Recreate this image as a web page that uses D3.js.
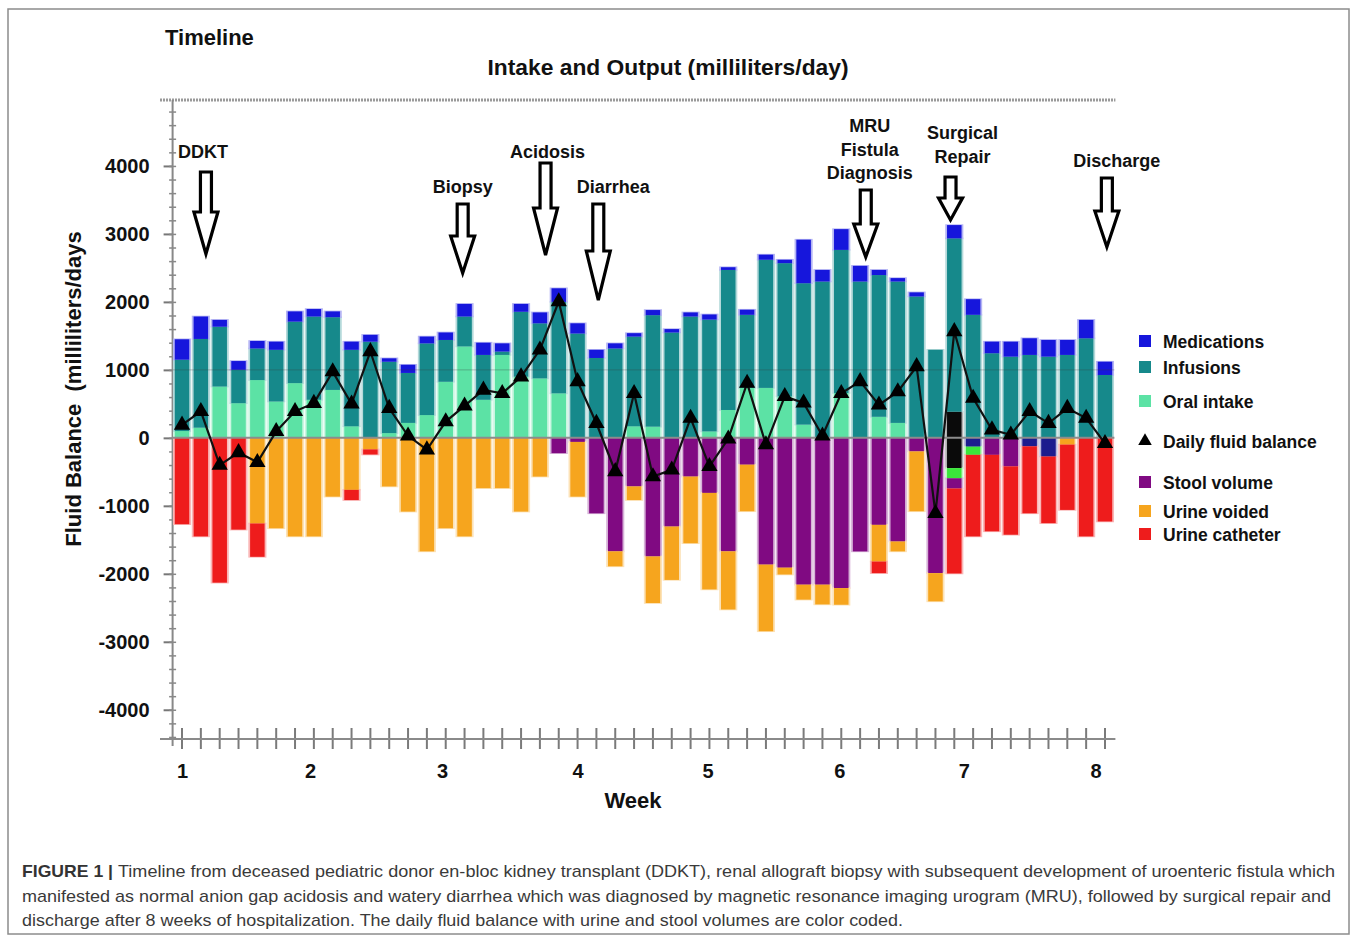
<!DOCTYPE html>
<html>
<head>
<meta charset="utf-8">
<script src="https://cdn.jsdelivr.net/npm/d3@7"></script>
<style>
    body { margin: 0; background: #fff; }
    svg text { font-family: "Liberation Sans", Arial, Helvetica, sans-serif; }
</style>
</head>
<body>
<div id="chart"></div>
<script>
'use strict';

// Hospital days (one bar each)
const dayIndex = [0, 1, 2, 3, 4, 5, 6, 7, 8, 9, 10, 11, 12, 13, 14, 15, 16, 17, 18, 19,
    20, 21, 22, 23, 24, 25, 26, 27, 28, 29, 30, 31, 32, 33, 34, 35, 36, 37, 38, 39,
    40, 41, 42, 43, 44, 45, 46, 47, 48, 49];

// Week labels and the day they sit under
const weekLabels = ['1', '2', '3', '4', '5', '6', '7', '8'];
const weekDay = [0, 6.8, 13.8, 21, 27.9, 34.9, 41.5, 48.5];

// Y tick labels
const yTicks = [-4000, -3000, -2000, -1000, 0, 1000, 2000, 3000, 4000];

// Intake (ml/day)
const oralIntake = [100, 150, 755, 510, 850, 535, 805, 560, 705, 170,
    0, 70, 220, 335, 825, 1345, 560, 1220, 900, 875,
    655, 0, 0, 0, 170, 165, 0, 0, 95, 410,
    735, 735, 610, 195, 0, 660, 0, 310, 220, 0,
    0, 0, 0, 0, 0, 0, 0, 0, 0, 0];
const infusions = [1050, 1305, 880, 490, 465, 760, 905, 1225, 1070, 1125,
    1415, 1050, 735, 1055, 615, 440, 660, 50, 955, 810,
    1345, 1535, 1175, 1315, 1320, 1640, 1550, 1785, 1645, 2060,
    1075, 1885, 1960, 2080, 2300, 2105, 2300, 2085, 2080, 2080,
    1295, 2550, 1810, 1245, 1195, 1220, 1195, 1220, 1465, 925];
const medications = [300, 330, 100, 130, 110, 120, 150, 110, 85, 120,
    100, 50, 120, 100, 110, 185, 180, 120, 115, 160,
    200, 150, 120, 75, 50, 75, 50, 60, 75, 40,
    75, 75, 50, 640, 170, 305, 230, 75, 50, 60,
    0, 195, 230, 170, 220, 245, 245, 220, 270, 195];

// Output (ml/day)
const stoolVolume = [0, 0, 0, 0, 0, 0, 0, 0, 0, 0,
    0, 0, 0, 0, 0, 0, 0, 0, 0, 0,
    225, 60, 1110, 1670, 715, 1745, 1305, 570, 810, 1670,
    395, 1865, 1910, 2160, 2160, 2210, 1670, 1280, 1525, 200,
    1990, 150, 0, 250, 420, 0, 0, 0, 0, 0];
const urineVoided = [0, 0, 0, 0, 1260, 1330, 1450, 1450, 865, 765,
    170, 715, 1085, 1670, 1330, 1450, 740, 740, 1085, 570,
    0, 805, 0, 220, 200, 685, 785, 980, 1420, 855,
    685, 980, 100, 220, 290, 245, 0, 540, 145, 880,
    415, 0, 0, 0, 0, 0, 0, 100, 0, 0];
const urineCatheter = [1270, 1450, 2130, 1350, 490, 0, 0, 0, 0, 150,
    75, 0, 0, 0, 0, 0, 0, 0, 0, 0,
    0, 0, 0, 0, 0, 0, 0, 0, 0, 0,
    0, 0, 0, 0, 0, 0, 0, 170, 0, 0,
    0, 1250, 1200, 1125, 1005, 985, 980, 960, 1450, 1230];

// Unlabelled segments (surgery day and after)
const blackUp = [0, 0, 0, 0, 0, 0, 0, 0, 0, 0, 0, 0, 0, 0, 0, 0, 0, 0, 0, 0,
    0, 0, 0, 0, 0, 0, 0, 0, 0, 0, 0, 0, 0, 0, 0, 0, 0, 0, 0, 0,
    0, 385, 0, 0, 0, 0, 0, 0, 0, 0];
const navyDown = [0, 0, 0, 0, 0, 0, 0, 0, 0, 0, 0, 0, 0, 0, 0, 0, 0, 0, 0, 0,
    0, 0, 0, 0, 0, 0, 0, 0, 0, 0, 0, 0, 0, 0, 0, 0, 0, 0, 0, 0,
    0, 0, 130, 0, 0, 125, 275, 0, 0, 0];
const blackDown = [0, 0, 0, 0, 0, 0, 0, 0, 0, 0, 0, 0, 0, 0, 0, 0, 0, 0, 0, 0,
    0, 0, 0, 0, 0, 0, 0, 0, 0, 0, 0, 0, 0, 0, 0, 0, 0, 0, 0, 0,
    0, 445, 0, 0, 0, 0, 0, 0, 0, 0];
const limeDown = [0, 0, 0, 0, 0, 0, 0, 0, 0, 0, 0, 0, 0, 0, 0, 0, 0, 0, 0, 0,
    0, 0, 0, 0, 0, 0, 0, 0, 0, 0, 0, 0, 0, 0, 0, 0, 0, 0, 0, 0,
    0, 150, 120, 0, 0, 0, 0, 0, 0, 0];

// Daily fluid balance (ml/day)
const dailyBalance = [190, 390, -400, -215, -360, 95, 390, 510, 975, 500,
    1270, 435, 30, -175, 240, 470, 705, 655, 900, 1295,
    2005, 830, 215, -495, 655, -570, -470, 290, -420, -15,
    805, -100, 610, 515, 30, 655, 830, 485, 680, 1050,
    -1110, 1565, 585, 120, 45, 390, 215, 435, 290, -80];

// Timeline events
const eventLabels = [['DDKT'], ['Biopsy'], ['Acidosis'], ['Diarrhea'],
    ['MRU', 'Fistula', 'Diagnosis'], ['Surgical', 'Repair'], ['Discharge']];
const eventDay = [1.27, 14.9, 19.3, 22.1, 36.3, 40.8, 49.1];

// Legend
const legendLabels = ['Medications', 'Infusions', 'Oral intake', 'Daily fluid balance',
    'Stool volume', 'Urine voided', 'Urine catheter'];

// Caption
const captionLead = 'FIGURE 1 |';
const captionLines = [
    'Timeline from deceased pediatric donor en-bloc kidney transplant (DDKT), renal allograft biopsy with subsequent development of uroenteric fistula which',
    'manifested as normal anion gap acidosis and watery diarrhea which was diagnosed by magnetic resonance imaging urogram (MRU), followed by surgical repair and',
    'discharge after 8 weeks of hospitalization. The daily fluid balance with urine and stool volumes are color coded.'
];

class FluidChart {

    // Configs
    w = 1358;
    h = 936;

    constructor(_ref) {
        this.parent = _ref;
        this.initVis();
    }

    initVis() {
        // Get this vis
        const vis = this;

        vis.svg = d3.select(`#${vis.parent}`)
            .append('svg')
            .attr('width', vis.w)
            .attr('height', vis.h);

        vis.svg.append('rect')
            .attr('width', vis.w)
            .attr('height', vis.h)
            .attr('fill', '#fff');

        // Outer frame
        vis.svg.append('rect')
            .attr('x', 8)
            .attr('y', 9)
            .attr('width', 1341)
            .attr('height', 925)
            .attr('fill', 'none')
            .attr('stroke', '#8c8c8c')
            .attr('stroke-width', 1.5);

        // Plot box
        vis.plot = {left: 172.6, right: 1114.4, top: 100, bottom: 739};

        // Scales
        vis.x = d3.scaleBand()
            .domain(dayIndex)
            .range([vis.plot.left, vis.plot.right])
            .paddingInner(0.23)
            .paddingOuter(0.115);
        vis.xDay = d3.scaleLinear()
            .domain([dayIndex[0], dayIndex[dayIndex.length - 1]])
            .range([vis.x(dayIndex[0]) + vis.x.bandwidth() / 2,
                vis.x(dayIndex[dayIndex.length - 1]) + vis.x.bandwidth() / 2]);
        vis.y = d3.scaleLinear()
            .domain([-4430, 4970])
            .range([vis.plot.bottom, vis.plot.top]);

        // Colors
        vis.colors = {
            oral: '#5ce2a5',
            blackUp: '#0a0a0a',
            infusions: '#16898b',
            medications: '#1616dc',
            navyDown: '#1c1c8e',
            blackDown: '#0a0a0a',
            limeDown: '#3ae63a',
            stool: '#800a82',
            voided: '#f6a51e',
            catheter: '#ee1c1c'
        };

        // Table for the stack (outputs as negatives)
        vis.keys = ['oral', 'blackUp', 'infusions', 'medications',
            'navyDown', 'blackDown', 'limeDown', 'stool', 'voided', 'catheter'];
        vis.rows = dayIndex.map((d, i) => ({
            day: d,
            oral: oralIntake[i],
            blackUp: blackUp[i],
            infusions: infusions[i],
            medications: medications[i],
            navyDown: -navyDown[i],
            blackDown: -blackDown[i],
            limeDown: -limeDown[i],
            stool: -stoolVolume[i],
            voided: -urineVoided[i],
            catheter: -urineCatheter[i]
        }));

        vis.drawAxes();
        vis.drawBars();
        vis.drawBalance();
        vis.drawEvents();
        vis.drawTitles();
        vis.drawLegend();
        vis.drawCaption();
    }

    /*
    drawAxes
     */
    drawAxes() {
        const vis = this;

        // Dotted top border
        vis.svg.append('line')
            .attr('x1', 160)
            .attr('x2', vis.plot.right + 1)
            .attr('y1', vis.plot.top)
            .attr('y2', vis.plot.top)
            .attr('stroke', '#9a9a9a')
            .attr('stroke-width', 3)
            .attr('stroke-dasharray', '2,1');

        // Y axis: labels and major ticks (plain hyphen for negatives)
        const yAxisG = vis.svg.append('g')
            .attr('class', 'yAxis')
            .attr('transform', `translate(${vis.plot.left},0)`)
            .call(d3.axisLeft(vis.y)
                .tickValues(yTicks)
                .tickSize(9)
                .tickPadding(14)
                .tickFormat(d => String(d)));
        yAxisG.select('.domain').remove();
        yAxisG.selectAll('.tick line')
            .attr('stroke', '#777')
            .attr('stroke-width', 2);
        yAxisG.selectAll('.tick text')
            .attr('font-size', 20)
            .attr('font-weight', 'bold')
            .attr('fill', '#111');

        // Y axis: minor ticks both sides
        const minor = d3.range(-4400, 4801, 200);
        [d3.axisLeft, d3.axisRight].forEach(ax => {
            const g = vis.svg.append('g')
                .attr('transform', `translate(${vis.plot.left},0)`)
                .call(ax(vis.y).tickValues(minor).tickSize(3.5).tickFormat(''));
            g.select('.domain').remove();
            g.selectAll('.tick line')
                .attr('stroke', '#888')
                .attr('stroke-width', 1.5);
        });

        // Y axis line
        vis.svg.append('line')
            .attr('x1', vis.plot.left)
            .attr('x2', vis.plot.left)
            .attr('y1', vis.plot.top)
            .attr('y2', vis.plot.bottom + 7)
            .attr('stroke', '#888')
            .attr('stroke-width', 2);

        // X axis: day ticks across the line
        const xTickG = vis.svg.append('g')
            .attr('class', 'xTicks')
            .attr('transform', `translate(0,${vis.plot.bottom - 11})`)
            .call(d3.axisBottom(vis.x).tickSize(21).tickFormat(''));
        xTickG.select('.domain').remove();
        xTickG.selectAll('.tick line')
            .attr('stroke', '#7a7a7a')
            .attr('stroke-width', 2);

        // X axis line
        vis.svg.append('line')
            .attr('x1', 160)
            .attr('x2', vis.plot.right + 1)
            .attr('y1', vis.plot.bottom)
            .attr('y2', vis.plot.bottom)
            .attr('stroke', '#8a8a8a')
            .attr('stroke-width', 2);

        // Week labels
        const weekG = vis.svg.append('g')
            .attr('class', 'weekAxis')
            .attr('transform', `translate(0,${vis.plot.bottom})`)
            .call(d3.axisBottom(vis.xDay)
                .tickValues(weekDay)
                .tickSize(0)
                .tickPadding(25)
                .tickFormat((d, i) => weekLabels[i]));
        weekG.select('.domain').remove();
        weekG.selectAll('.tick text')
            .attr('font-size', 20)
            .attr('font-weight', 'bold')
            .attr('fill', '#111');
    }

    /*
    drawBars
     */
    drawBars() {
        const vis = this;

        vis.stacked = d3.stack()
            .keys(vis.keys)
            .offset(d3.stackOffsetDiverging)(vis.rows);

        const segs = [];
        vis.stacked.forEach(s => {
            s.forEach(p => {
                if (p[1] !== p[0]) {
                    segs.push({key: s.key, day: p.data.day, y0: p[0], y1: p[1]});
                }
            });
        });

        // Pale halo round each segment
        vis.svg.append('g')
            .attr('class', 'barHalo')
            .selectAll('rect')
            .data(segs)
            .join('rect')
            .attr('x', d => vis.x(d.day) - 1.8)
            .attr('width', vis.x.bandwidth() + 3.6)
            .attr('y', d => vis.y(Math.max(d.y0, d.y1)) - 0.8)
            .attr('height', d => Math.abs(vis.y(d.y0) - vis.y(d.y1)) + 1.6)
            .attr('fill', d => d3.interpolateRgb(vis.colors[d.key], '#fff')(0.68));

        vis.svg.append('g')
            .attr('class', 'bars')
            .selectAll('rect')
            .data(segs)
            .join('rect')
            .attr('x', d => vis.x(d.day))
            .attr('width', vis.x.bandwidth())
            .attr('y', d => vis.y(Math.max(d.y0, d.y1)))
            .attr('height', d => Math.abs(vis.y(d.y0) - vis.y(d.y1)))
            .attr('fill', d => vis.colors[d.key]);

        // Reference lines
        vis.svg.append('line')
            .attr('x1', vis.plot.left)
            .attr('x2', vis.plot.right)
            .attr('y1', vis.y(1000))
            .attr('y2', vis.y(1000))
            .attr('stroke', 'rgba(60,60,60,0.3)')
            .attr('stroke-width', 1);
        vis.svg.append('line')
            .attr('x1', vis.plot.left)
            .attr('x2', vis.plot.right)
            .attr('y1', vis.y(0))
            .attr('y2', vis.y(0))
            .attr('stroke', '#8c8c8c')
            .attr('stroke-width', 2);
    }

    /*
    drawBalance
     */
    drawBalance() {
        const vis = this;

        const line = d3.line()
            .x((d, i) => vis.xDay(dayIndex[i]))
            .y(d => vis.y(d));

        vis.svg.append('path')
            .datum(dailyBalance)
            .attr('d', line)
            .attr('fill', 'none')
            .attr('stroke', '#111')
            .attr('stroke-width', 2.2);

        vis.svg.append('g')
            .attr('class', 'balanceMarks')
            .selectAll('path')
            .data(dailyBalance)
            .join('path')
            .attr('transform', (d, i) => `translate(${vis.xDay(dayIndex[i])},${vis.y(d)})`)
            .attr('d', d3.symbol(d3.symbolTriangle, 115))
            .attr('fill', '#000');
    }

    /*
    drawEvents
     */
    drawEvents() {
        const vis = this;

        // Arrow layout: first label baseline, label shift, shaft top, head top, tip (px)
        const layout = [
            {ly: 158, dx: -3, top: 172, head: 212, tip: 254},
            {ly: 193, dx: 0, top: 204, head: 236, tip: 273},
            {ly: 158, dx: 2, top: 163, head: 208, tip: 255},
            {ly: 193, dx: 15, top: 204, head: 251, tip: 300},
            {ly: 132, dx: 4, top: 190, head: 224, tip: 257},
            {ly: 139, dx: 12, top: 177, head: 198, tip: 220},
            {ly: 167, dx: 10, top: 178, head: 211, tip: 247}
        ];
        const sw = 5.5;
        const hw = 12;

        const evG = vis.svg.append('g').attr('class', 'events');
        eventLabels.forEach((lines, i) => {
            const cx = vis.xDay(eventDay[i]);
            const L = layout[i];
            const g = evG.append('g');
            g.append('path')
                .attr('d', `M${cx - sw},${L.top}L${cx + sw},${L.top}L${cx + sw},${L.head}` +
                    `L${cx + hw},${L.head}L${cx},${L.tip}L${cx - hw},${L.head}L${cx - sw},${L.head}Z`)
                .attr('fill', '#fff')
                .attr('stroke', '#000')
                .attr('stroke-width', 3.2)
                .attr('stroke-linejoin', 'miter');
            g.selectAll('text')
                .data(lines)
                .join('text')
                .attr('x', cx + L.dx)
                .attr('y', (d, j) => L.ly + j * 23.5)
                .attr('text-anchor', 'middle')
                .attr('font-size', 18)
                .attr('font-weight', 'bold')
                .attr('fill', '#111')
                .text(d => d);
        });
    }

    /*
    drawTitles
     */
    drawTitles() {
        const vis = this;

        vis.svg.append('text')
            .attr('x', 165)
            .attr('y', 45)
            .attr('font-size', 22)
            .attr('font-weight', 'bold')
            .attr('fill', '#111')
            .text('Timeline');

        vis.svg.append('text')
            .attr('x', 668)
            .attr('y', 75)
            .attr('text-anchor', 'middle')
            .attr('font-size', 22.8)
            .attr('font-weight', 'bold')
            .attr('fill', '#111')
            .text('Intake and Output (milliliters/day)');

        vis.svg.append('text')
            .attr('x', 633)
            .attr('y', 808)
            .attr('text-anchor', 'middle')
            .attr('font-size', 22)
            .attr('font-weight', 'bold')
            .attr('fill', '#111')
            .text('Week');

        vis.svg.append('text')
            .attr('transform', 'translate(81,389) rotate(-90)')
            .attr('text-anchor', 'middle')
            .attr('font-size', 22)
            .attr('font-weight', 'bold')
            .attr('fill', '#111')
            .attr('xml:space', 'preserve')
            .text('Fluid Balance  (milliliters/days');
    }

    /*
    drawLegend
     */
    drawLegend() {
        const vis = this;

        // Legend rows (px)
        const rowY = [341, 367, 401, 441, 482, 511, 534];
        const swatch = ['medications', 'infusions', 'oral', null, 'stool', 'voided', 'catheter'];

        const lg = vis.svg.append('g').attr('class', 'legend');
        legendLabels.forEach((lab, i) => {
            if (swatch[i]) {
                lg.append('rect')
                    .attr('x', 1139)
                    .attr('y', rowY[i] - 6)
                    .attr('width', 12)
                    .attr('height', 12)
                    .attr('fill', vis.colors[swatch[i]]);
            } else {
                lg.append('path')
                    .attr('transform', `translate(1145,${rowY[i]})`)
                    .attr('d', d3.symbol(d3.symbolTriangle, 80))
                    .attr('fill', '#000');
            }
            lg.append('text')
                .attr('x', 1163)
                .attr('y', rowY[i] + 6.5)
                .attr('font-size', 17.5)
                .attr('font-weight', 'bold')
                .attr('fill', '#111')
                .text(lab);
        });
    }

    /*
    drawCaption
     */
    drawCaption() {
        const vis = this;

        const capG = vis.svg.append('g')
            .attr('class', 'caption')
            .style('font-family', '"Liberation Sans Narrow", "Roboto", "Liberation Sans", sans-serif');
        const baseY = [877, 902, 926];
        const starts = [118, 22, 22];
        const ends = [1335, 1331, 903];

        capG.append('text')
            .attr('x', 22)
            .attr('y', baseY[0])
            .attr('font-size', 17)
            .attr('font-weight', 'bold')
            .attr('fill', '#333')
            .attr('textLength', 91)
            .attr('lengthAdjust', 'spacingAndGlyphs')
            .text(captionLead);

        captionLines.forEach((t, i) => {
            capG.append('text')
                .attr('x', starts[i])
                .attr('y', baseY[i])
                .attr('font-size', 17)
                .attr('fill', '#3a3a3a')
                .attr('textLength', ends[i] - starts[i])
                .attr('lengthAdjust', 'spacingAndGlyphs')
                .text(t);
        });
    }
}

new FluidChart('chart');
</script>
</body>
</html>
